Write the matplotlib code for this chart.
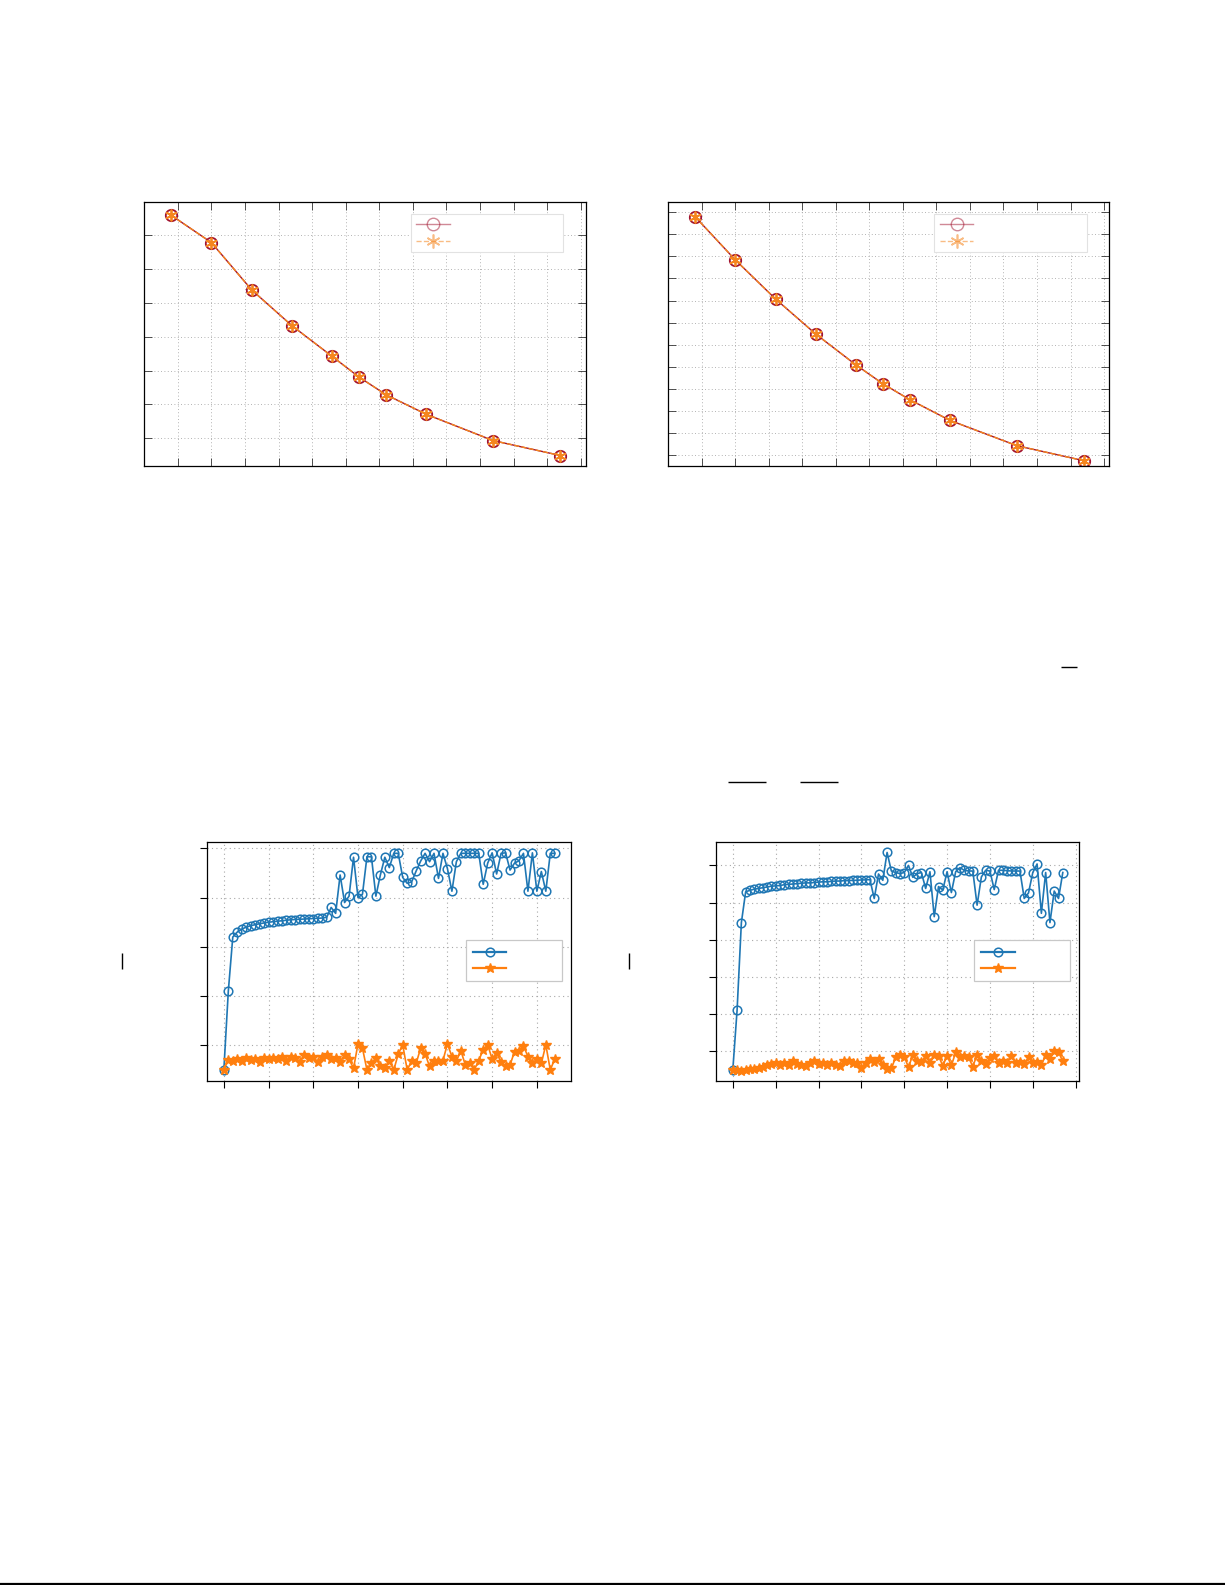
import matplotlib
matplotlib.use('Agg')
import matplotlib.pyplot as plt
from matplotlib.lines import Line2D

# ---------------- data ----------------
top_x = [4, 10, 16, 22, 28, 32, 36, 42, 52, 62]
tl_circle = [7.60, 6.79, 5.39, 4.33, 3.42, 2.81, 2.29, 1.71, 0.93, 0.49]
tl_star = [7.60, 6.79, 5.39, 4.33, 3.42, 2.81, 2.29, 1.71, 0.93, 0.49]
tr_circle = [11.80, 9.84, 8.07, 6.48, 5.08, 4.23, 3.51, 2.57, 1.42, 0.74]
tr_star = [11.80, 9.84, 8.07, 6.48, 5.08, 4.23, 3.51, 2.57, 1.42, 0.74]
top_xticks = list(range(0, 70, 5))
tl_yticks = list(range(1, 9))
tr_yticks = list(range(1, 13))

bl_blue = [0.10, 0.42, 0.64,
           0.660, 0.672, 0.680, 0.686, 0.690, 0.694, 0.697, 0.700, 0.702, 0.704,
           0.706, 0.708, 0.710, 0.711, 0.712, 0.713, 0.714, 0.715, 0.716, 0.717, 0.720,
           0.760, 0.736, 0.892, 0.780, 0.806, 0.964, 0.800, 0.814, 0.966, 0.966,
           0.806, 0.892, 0.964, 0.922, 0.980, 0.980, 0.882, 0.858, 0.864, 0.908,
           0.948, 0.980, 0.946, 0.980, 0.878, 0.980, 0.918, 0.826, 0.946, 0.980,
           0.980, 0.980, 0.980, 0.980, 0.854, 0.940, 0.982, 0.896, 0.980, 0.982,
           0.912, 0.940, 0.950, 0.980, 0.826, 0.982, 0.826, 0.906, 0.826, 0.980, 0.980]
bl_orange = [0.100, 0.140, 0.138, 0.144, 0.138, 0.148, 0.140, 0.144, 0.130, 0.148,
             0.144, 0.148, 0.144, 0.152, 0.138, 0.152, 0.148, 0.134, 0.160, 0.148,
             0.152, 0.130, 0.152, 0.160, 0.144, 0.148, 0.134, 0.160, 0.144, 0.106,
             0.206, 0.188, 0.100, 0.126, 0.148, 0.114, 0.106, 0.136, 0.100, 0.164,
             0.202, 0.100, 0.136, 0.126, 0.188, 0.166, 0.114, 0.136, 0.136, 0.138,
             0.206, 0.154, 0.136, 0.178, 0.120, 0.126, 0.100, 0.138, 0.182, 0.202,
             0.144, 0.170, 0.130, 0.114, 0.120, 0.174, 0.178, 0.198, 0.154, 0.126,
             0.144, 0.126, 0.202, 0.100, 0.144]
bl_xticks = list(range(0, 80, 10))
bl_yticks = [0.2, 0.4, 0.6, 0.8, 1.0]

br_blue = [0.49, 2.10, 4.46,
           5.29, 5.33, 5.36, 5.38, 5.40, 5.42, 5.44, 5.45, 5.46, 5.48, 5.49, 5.50,
           5.51, 5.52, 5.53, 5.53, 5.54, 5.55, 5.56, 5.56, 5.57, 5.58, 5.58, 5.59,
           5.59, 5.60, 5.60, 5.61, 5.61, 5.62,
           5.11, 5.77, 5.60, 6.35, 5.85, 5.81, 5.78, 5.81, 6.00, 5.68, 5.78, 5.81,
           5.38, 5.83, 4.62, 5.43, 5.34, 5.83, 5.27, 5.83, 5.94, 5.87, 5.85, 5.85,
           4.93, 5.69, 5.87, 5.85, 5.35, 5.87, 5.87, 5.86, 5.85, 5.85, 5.85, 5.11,
           5.26, 5.81, 6.04, 4.71, 5.81, 4.46, 5.31, 5.11, 5.81]
br_orange = [0.49, 0.49, 0.47, 0.49, 0.51, 0.52, 0.55, 0.58, 0.61, 0.65,
             0.67, 0.62, 0.69, 0.63, 0.72, 0.65, 0.63, 0.60, 0.67, 0.72,
             0.65, 0.69, 0.63, 0.67, 0.63, 0.60, 0.72, 0.72, 0.69, 0.69,
             0.54, 0.69, 0.78, 0.71, 0.79, 0.62, 0.51, 0.53, 0.83, 0.88,
             0.85, 0.56, 0.90, 0.74, 0.70, 0.87, 0.67, 0.88, 0.87, 0.60,
             0.87, 0.61, 0.96, 0.85, 0.87, 0.83, 0.58, 0.90, 0.74, 0.65,
             0.81, 0.87, 0.67, 0.72, 0.69, 0.87, 0.69, 0.70, 0.65, 0.83,
             0.69, 0.70, 0.61, 0.90, 0.78, 0.99, 0.97, 0.72]
br_xticks = list(range(0, 90, 10))
br_yticks = [1, 2, 3, 4, 5, 6]

# ---------------- styles ----------------
W, H = 1225, 1585
RED = '#A2142F'
ORANGE = '#F5861F'
BLUE = '#1f77b4'
ORG2 = '#ff7f0e'
ASTER = (6, 2, 0)

fig = plt.figure(figsize=(W / 100, H / 100), dpi=100)


def rect(left, top, right, bottom):
    return [left / W, 1 - bottom / H, (right - left) / W, (bottom - top) / H]


def top_panel(r, s1, s2, yticks, ylim):
    ax = fig.add_axes(r)
    ax.plot(top_x, s1, '-', marker='o', color=RED, mfc='none', mec=RED,
            ms=8.2, lw=1.0, mew=1.3)
    ax.plot(top_x, s2, '--', marker=ASTER, color=ORANGE, mec=ORANGE,
            ms=8.5, lw=1.0, mew=1.3)
    ax.set_xlim(0, 65.8)
    ax.set_ylim(*ylim)
    ax.set_xticks(top_xticks)
    ax.set_yticks(yticks)
    ax.tick_params(direction='in', top=True, right=True, length=5.5, width=0.6,
                   color='#333333', labelleft=False, labelbottom=False)
    ax.grid(True, linestyle=(0, (1, 3)), color='#9a9a9a', lw=0.6)
    for sp in ax.spines.values():
        sp.set_linewidth(0.9)
    h1 = Line2D([], [], ls='-', marker='o', color=RED, mfc='none', ms=9,
                lw=1.0, mew=1.0, alpha=0.5)
    h2 = Line2D([], [], ls='--', marker=ASTER, color=ORANGE, ms=10,
                lw=1.0, mew=1.2, alpha=0.55)
    leg = ax.legend([h1, h2], ['', ''], loc='upper left',
                    bbox_to_anchor=(0.603, 0.952), borderaxespad=0,
                    fontsize=8, handlelength=3.0, handletextpad=9.7,
                    borderpad=0.5, labelspacing=0.62, fancybox=False,
                    framealpha=1, edgecolor='#e2e2e2')
    leg.get_frame().set_linewidth(0.8)
    return ax


top_panel(rect(144.3, 201.7, 586.0, 466.0), tl_circle, tl_star, tl_yticks, (0.18, 8.0))
top_panel(rect(668.3, 201.7, 1109.4, 466.0), tr_circle, tr_star, tr_yticks, (0.5, 12.48))


def bottom_panel(r, blue, orange, xticks, yticks, xlim, ylim):
    ax = fig.add_axes(r)
    xs = list(range(len(blue)))
    ax.plot(xs, blue, '-', marker='o', color=BLUE, mfc='none', mec=BLUE,
            ms=6.2, lw=1.2, mew=1.1)
    ax.plot(xs, orange, '-', marker='*', color=ORG2, mec=ORG2,
            ms=7, lw=1.2, mew=1.0)
    ax.set_xlim(*xlim)
    ax.set_ylim(*ylim)
    ax.set_xticks(xticks)
    ax.set_yticks(yticks)
    ax.tick_params(direction='out', length=5, width=0.8, color='black',
                   labelleft=False, labelbottom=False)
    ax.grid(True, linestyle=(0, (1, 3)), color='#a8a8a8', lw=0.8)
    for sp in ax.spines.values():
        sp.set_linewidth(0.9)
    h1 = Line2D([], [], ls='-', marker='o', color=BLUE, mfc='none', ms=6.2,
                lw=1.6, mew=1.1)
    h2 = Line2D([], [], ls='-', marker='*', color=ORG2, ms=7, lw=1.6)
    leg = ax.legend([h1, h2], ['', ''], loc='upper left',
                    bbox_to_anchor=(0.710, 0.588), borderaxespad=0,
                    fontsize=8, handlelength=3.0, handletextpad=4.3,
                    borderpad=0.66, labelspacing=0.55, fancybox=False,
                    framealpha=1, edgecolor='#c8c8c8')
    leg.get_frame().set_linewidth(0.9)
    return ax


bottom_panel(rect(207.3, 842.0, 571.3, 1080.7), bl_blue, bl_orange,
             bl_xticks, bl_yticks, (-3.7, 77.7), (0.056, 1.026))
bottom_panel(rect(716.3, 841.7, 1079.3, 1080.7), br_blue, br_orange,
             br_xticks, br_yticks, (-3.85, 80.85), (0.20, 6.64))


# stray visible strokes of the page (fraction bars, bars, rule)
def page_line(x0, x1, y0, y1, lw):
    fig.add_artist(Line2D([x0 / W, x1 / W], [1 - y0 / H, 1 - y1 / H],
                          transform=fig.transFigure, color='black', lw=lw,
                          solid_capstyle='butt'))


page_line(121.7, 121.7, 953.3, 969.3, 1.0)
page_line(629.3, 629.3, 953.3, 969.3, 1.0)
page_line(1061.0, 1076.7, 666.7, 666.7, 1.0)
page_line(727.7, 765.7, 782.3, 782.3, 1.0)
page_line(800.0, 837.7, 782.3, 782.3, 1.0)
page_line(0, W, 1583.8, 1583.8, 1.6)

fig.savefig('out.png', dpi=100)
